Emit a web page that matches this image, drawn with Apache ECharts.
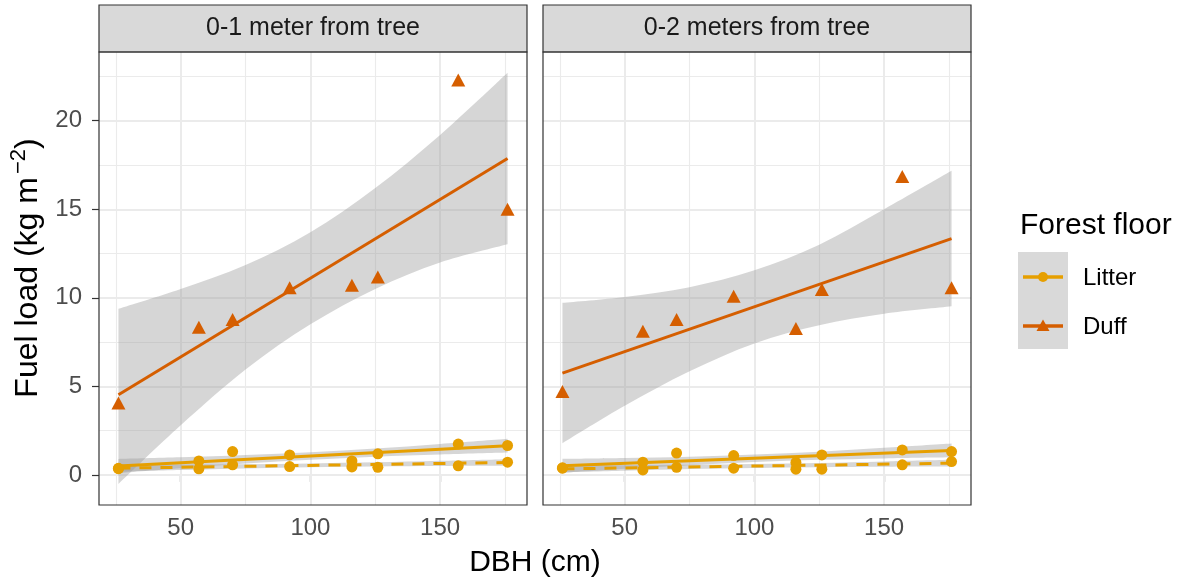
<!DOCTYPE html>
<html><head><meta charset="utf-8">
<script src="https://cdn.jsdelivr.net/npm/echarts@6/dist/echarts.min.js"></script>
<style>html,body{margin:0;padding:0;background:#fff}#c{width:1181px;height:585px}</style>
</head><body><div id="c"></div>
<script>
// ---------- data ----------
const panels = ['0-1 meter from tree', '0-2 meters from tree'];
const dbh = [26, 57, 70, 92, 116, 126, 157, 176];
// panel 1 (0-1 m)
const duff1    = [4.06, 8.34, 8.77, 10.57, 10.71, 11.17, 22.3, 15.0];
const litterA1 = [0.37, 0.79, 1.32, 1.13, 0.79, 1.19, 1.74, 1.66];
const litterB1 = [0.35, 0.34, 0.57, 0.47, 0.45, 0.43, 0.51, 0.72];
// panel 2 (0-2 m)
const duff2    = [4.71, 8.11, 8.77, 10.09, 8.26, 10.47, 16.85, 10.57];
const litterA2 = [0.40, 0.72, 1.23, 1.09, 0.70, 1.13, 1.41, 1.32];
const litterB2 = [0.38, 0.28, 0.43, 0.38, 0.32, 0.32, 0.57, 0.75];
// fitted lines (endpoints)
const fitX = [26, 176];
const duffFit1 = [4.53, 17.87];
const duffFit2 = [5.75, 13.34];
const litterFitA1 = [0.50, 1.65];
const litterFitB1 = [0.38, 0.70];
const litterFitA2 = [0.51, 1.38];
const litterFitB2 = [0.34, 0.66];
// confidence bands
const bandX = [26, 50, 75, 100, 125, 150, 176];
const duffLo1 = [-0.51, 2.8, 5.95, 8.5, 10.5, 12.0, 13.03];
const duffHi1 = [9.38, 10.5, 11.85, 13.7, 16.2, 19.2, 22.71];
const duffLo2 = [1.79, 3.9, 5.85, 7.42, 8.45, 9.1, 9.52];
const duffHi2 = [9.72, 10.05, 10.6, 11.55, 13.0, 15.0, 17.17];
const litALo1 = [0.10, 0.37, 0.64, 0.86, 1.03, 1.15, 1.26];
const litAHi1 = [0.90, 0.99, 1.12, 1.28, 1.49, 1.75, 2.04];
const litBLo1 = [0.18, 0.27, 0.36, 0.43, 0.47, 0.50, 0.51];
const litBHi1 = [0.58, 0.59, 0.60, 0.65, 0.71, 0.80, 0.89];
const litALo2 = [0.11, 0.34, 0.55, 0.73, 0.85, 0.93, 0.99];
const litAHi2 = [0.91, 0.96, 1.03, 1.15, 1.31, 1.53, 1.77];
const litBLo2 = [0.14, 0.23, 0.33, 0.39, 0.43, 0.46, 0.47];
const litBHi2 = [0.54, 0.55, 0.57, 0.61, 0.67, 0.76, 0.85];
// ticks
const xTicks = [50, 100, 150];
const xMinor = [25, 75, 125, 175];
const yTicks = [0, 5, 10, 15, 20];
const yMinor = [2.5, 7.5, 12.5, 17.5, 22.5];

// ---------- styling ----------
const FONT = 'Liberation Sans, Arial, Helvetica, sans-serif';
const LITTER = '#E69F00', DUFF = '#D55E00';
const BAND = 'rgba(153,153,153,0.4)';
const X_MIN = 18.5, X_MAX = 183.5, Y_MIN = -1.7, Y_MAX = 23.88;
const grids = [
  {left: 99, top: 52, width: 428, height: 453},
  {left: 543, top: 52, width: 428, height: 453}
];

const pairs = (xs, ys) => xs.map((x, i) => [x, ys[i]]);

function gridLines(g) {
  const d = [];
  yMinor.forEach(v => d.push({yAxis: v, lineStyle: {width: 1.1}}));
  xMinor.forEach(v => d.push({xAxis: v, lineStyle: {width: 1.1}}));
  yTicks.forEach(v => d.push({yAxis: v, lineStyle: {width: 2}}));
  xTicks.forEach(v => d.push({xAxis: v, lineStyle: {width: 2}}));
  return {
    type: 'line', xAxisIndex: g, yAxisIndex: g, data: [], silent: true, z: 1,
    markLine: {silent: true, z: 1, symbol: ['none', 'none'], label: {show: false},
      lineStyle: {color: '#EBEBEB', type: 'solid'}, emphasis: {disabled: true}, data: d}
  };
}
// Catmull-Rom spline through screen points -> SVG path commands (rendering only)
function splinePath(p, startCmd) {
  let s = startCmd + p[0][0].toFixed(2) + ' ' + p[0][1].toFixed(2);
  for (let i = 0; i < p.length - 1; i++) {
    const p0 = p[Math.max(i - 1, 0)], p1 = p[i], p2 = p[i + 1], p3 = p[Math.min(i + 2, p.length - 1)];
    const c1 = [p1[0] + (p2[0] - p0[0]) / 6, p1[1] + (p2[1] - p0[1]) / 6];
    const c2 = [p2[0] - (p3[0] - p1[0]) / 6, p2[1] - (p3[1] - p1[1]) / 6];
    s += ' C' + c1[0].toFixed(2) + ' ' + c1[1].toFixed(2) + ' ' + c2[0].toFixed(2) + ' ' + c2[1].toFixed(2) +
         ' ' + p2[0].toFixed(2) + ' ' + p2[1].toFixed(2);
  }
  return s;
}
function band(g, lo, hi) {
  const rows = bandX.map((x, i) => [x, lo[i], hi[i]]);
  return {
    type: 'custom', coordinateSystem: 'cartesian2d', xAxisIndex: g, yAxisIndex: g,
    silent: true, z: 2, data: rows, encode: {x: 0, y: [1, 2]},
    renderItem: (params, api) => {
      if (params.dataIndex !== 0) return null;
      const up = rows.map(r => api.coord([r[0], r[2]]));
      const dn = rows.slice().reverse().map(r => api.coord([r[0], r[1]]));
      const d = splinePath(up, 'M') + ' ' + splinePath(dn, 'L') + ' Z';
      return {type: 'path', shape: {pathData: d}, style: {fill: BAND}};
    }
  };
}
function fit(g, ys, color, dashed) {
  return {type: 'line', xAxisIndex: g, yAxisIndex: g, symbol: 'none', silent: true, z: 3,
    lineStyle: {color, width: 3, type: dashed ? [12, 9] : 'solid', cap: 'butt'},
    data: pairs(fitX, ys)};
}
function pts(g, ys, color, sym, size) {
  return {type: 'scatter', xAxisIndex: g, yAxisIndex: g, symbol: sym, symbolSize: size, z: 4,
    itemStyle: {color, opacity: 1}, silent: true, data: pairs(dbh, ys)};
}

const P = [
  {duff: duff1, la: litterA1, lb: litterB1, df: duffFit1, fa: litterFitA1, fb: litterFitB1,
   dLo: duffLo1, dHi: duffHi1, aLo: litALo1, aHi: litAHi1, bLo: litBLo1, bHi: litBHi1},
  {duff: duff2, la: litterA2, lb: litterB2, df: duffFit2, fa: litterFitA2, fb: litterFitB2,
   dLo: duffLo2, dHi: duffHi2, aLo: litALo2, aHi: litAHi2, bLo: litBLo2, bHi: litBHi2}
];

const series = [];
P.forEach((p, g) => {
  series.push(gridLines(g));
  series.push(band(g, p.bLo, p.bHi));
  series.push(band(g, p.aLo, p.aHi));
  series.push(band(g, p.dLo, p.dHi));
  series.push(pts(g, p.la, LITTER, 'circle', 11));
  series.push(pts(g, p.lb, LITTER, 'circle', 11));
  series.push(pts(g, p.duff, DUFF, 'triangle', [14, 13]));
  series.push(fit(g, p.fb, LITTER, true));
  series.push(fit(g, p.fa, LITTER, false));
  series.push(fit(g, p.df, DUFF, false));
});

const xAxes = grids.map((_, g) => ({
  type: 'value', gridIndex: g, min: X_MIN, max: X_MAX,
  axisLine: {show: false}, splitLine: {show: false},
  axisTick: {show: true, length: 7, customValues: xTicks, lineStyle: {color: '#333', width: 1.2}},
  axisLabel: {show: true, customValues: xTicks, margin: 11, color: '#4D4D4D', fontSize: 24, fontFamily: FONT}
}));
const yAxes = grids.map((_, g) => ({
  type: 'value', gridIndex: g, min: Y_MIN, max: Y_MAX,
  axisLine: {show: false}, splitLine: {show: false},
  axisTick: {show: g === 0, length: 7, customValues: yTicks, lineStyle: {color: '#333', width: 1.2}},
  axisLabel: {show: g === 0, customValues: yTicks, margin: 17, color: '#4D4D4D', fontSize: 24, fontFamily: FONT}
}));

const graphic = [];
grids.forEach((gr, g) => {
  graphic.push({type: 'rect', shape: {x: gr.left, y: 5, width: gr.width, height: 47},
    style: {fill: '#D9D9D9', stroke: '#333', lineWidth: 1.2}, z: 10});
  graphic.push({type: 'text', x: gr.left + gr.width / 2, y: 28.5, z: 11,
    style: {text: panels[g], fill: '#1A1A1A', font: '25px ' + FONT, align: 'center', verticalAlign: 'middle'}});
  graphic.push({type: 'rect', shape: {x: gr.left, y: gr.top, width: gr.width, height: gr.height},
    style: {fill: 'none', stroke: '#333', lineWidth: 1.2}, z: 10, silent: true});
});
// axis titles
graphic.push({type: 'text', x: 535, y: 563, z: 11,
  style: {text: 'DBH (cm)', fill: '#000', font: '30px ' + FONT, align: 'center', verticalAlign: 'middle'}});
graphic.push({type: 'text', x: 28, y: 268, rotation: Math.PI / 2, z: 11,
  style: {text: '{a|Fuel load (kg m}{s|−2}{a|)}', align: 'center', verticalAlign: 'middle',
    rich: {a: {fontSize: 32, fontFamily: FONT, fill: '#000', lineHeight: 40},
           s: {fontSize: 22, fontFamily: FONT, fill: '#000', lineHeight: 22, verticalAlign: 'top', padding: [0, 0, 0, 3]}}}});
// legend
graphic.push({type: 'text', x: 1020, y: 226, z: 11,
  style: {text: 'Forest floor', fill: '#000', font: '30px ' + FONT, align: 'left', verticalAlign: 'middle'}});
graphic.push({type: 'rect', shape: {x: 1018, y: 252, width: 50, height: 97}, style: {fill: '#D9D9D9'}, z: 10});
graphic.push({type: 'line', shape: {x1: 1023, y1: 277, x2: 1063, y2: 277}, style: {stroke: LITTER, lineWidth: 3.5}, z: 11});
graphic.push({type: 'circle', shape: {cx: 1043, cy: 277, r: 5}, style: {fill: LITTER}, z: 12});
graphic.push({type: 'line', shape: {x1: 1023, y1: 326, x2: 1063, y2: 326}, style: {stroke: DUFF, lineWidth: 3.5}, z: 11});
graphic.push({type: 'polygon', shape: {points: [[1036.5, 331], [1049.5, 331], [1043, 319.5]]}, style: {fill: DUFF}, z: 12});
graphic.push({type: 'text', x: 1083, y: 278, z: 11,
  style: {text: 'Litter', fill: '#000', font: '24px ' + FONT, align: 'left', verticalAlign: 'middle'}});
graphic.push({type: 'text', x: 1083, y: 327, z: 11,
  style: {text: 'Duff', fill: '#000', font: '24px ' + FONT, align: 'left', verticalAlign: 'middle'}});

const chart = echarts.init(document.getElementById('c'), null, {renderer: 'canvas'});
chart.setOption({
  animation: false,
  backgroundColor: '#fff',
  grid: grids.map(g => Object.assign({containLabel: false}, g)),
  xAxis: xAxes,
  yAxis: yAxes,
  series,
  graphic
});
</script></body></html>
